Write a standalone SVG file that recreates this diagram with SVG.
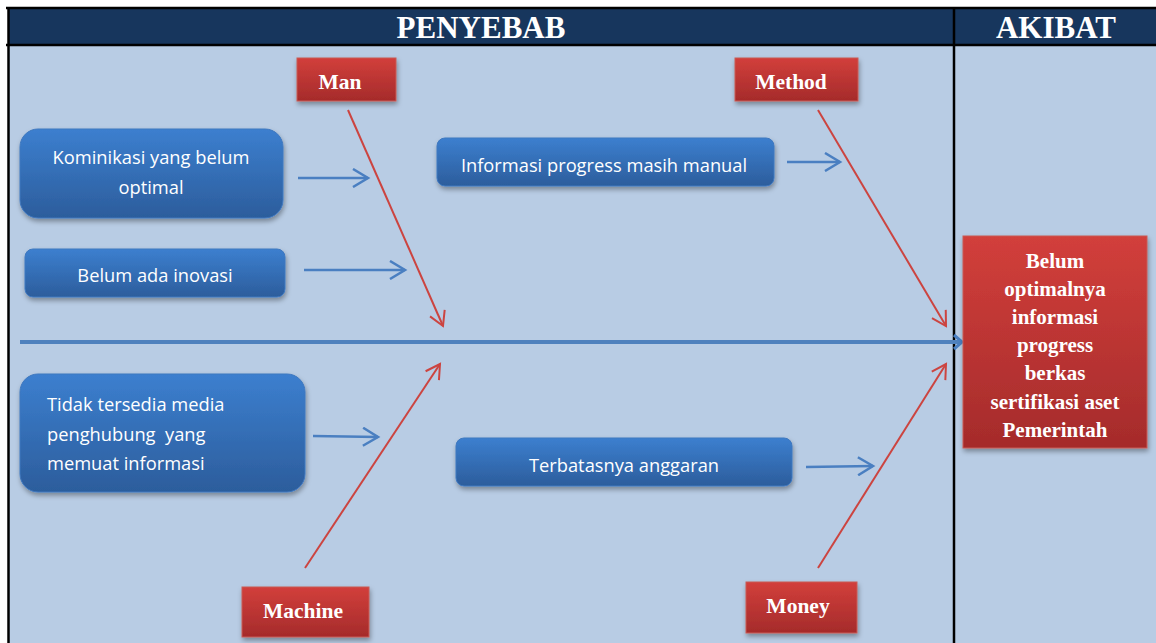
<svg xmlns="http://www.w3.org/2000/svg" width="1156" height="643" viewBox="0 0 1156 643">
<defs>
<style>
.hdr{font-family:"Liberation Serif","Times New Roman",serif;font-weight:bold;font-size:31px;fill:#fff;text-anchor:middle}
.cat{font-family:"Liberation Serif","Times New Roman",serif;font-weight:bold;font-size:21.5px;fill:#fff;text-anchor:middle}
.eff{font-family:"Liberation Serif","Times New Roman",serif;font-weight:bold;font-size:21px;fill:#fff;text-anchor:middle}
.bt{font-family:"Open Sans","Noto Sans",sans-serif;font-size:18.3px;fill:#fff}
.bbox{fill:url(#gb);stroke:#3f78bf;stroke-width:1;filter:url(#sh)}
.rbox{fill:url(#gr);stroke:#c85a55;stroke-width:1;filter:url(#sh)}
.rl{stroke:#cc4440;stroke-width:2;fill:none;marker-end:url(#ar)}
.bl{stroke:#4a7fc1;stroke-width:2.5;fill:none;marker-end:url(#ab)}
</style>
<linearGradient id="gb" x1="0" y1="0" x2="0" y2="1"><stop offset="0" stop-color="#3c7fcf"/><stop offset="1" stop-color="#2c5d9c"/></linearGradient>
<linearGradient id="gr" x1="0" y1="0" x2="0" y2="1"><stop offset="0" stop-color="#d23f3b"/><stop offset="1" stop-color="#a52b2b"/></linearGradient>
<filter id="sh" x="-10%" y="-10%" width="125%" height="135%"><feDropShadow dx="1" dy="3" stdDeviation="2.5" flood-color="#000" flood-opacity="0.35"/></filter>
<marker id="ar" markerUnits="userSpaceOnUse" markerWidth="20" markerHeight="20" viewBox="-16 -10 18 20" refX="0" refY="0" orient="auto"><path d="M-14,-8 L0,0 L-14,8" fill="none" stroke="#cc4440" stroke-width="2"/></marker>
<marker id="ab" markerUnits="userSpaceOnUse" markerWidth="20" markerHeight="20" viewBox="-16 -10 18 20" refX="0" refY="0" orient="auto"><path d="M-15,-9 L0,0 L-15,9" fill="none" stroke="#4a7fc1" stroke-width="2.5"/></marker>
<marker id="as" markerUnits="userSpaceOnUse" markerWidth="20" markerHeight="20" viewBox="-16 -10 18 20" refX="0" refY="0" orient="auto"><path d="M-8,-7 L0,0 L-8,7" fill="none" stroke="#4a7fc1" stroke-width="3"/></marker>
</defs>
<rect x="0" y="0" width="1156" height="643" fill="#fff"/>
<rect x="8" y="46" width="1148" height="597" fill="#b8cce4"/>
<rect x="8" y="8" width="1148" height="37" fill="#17365d"/>
<g fill="none" stroke="#000" stroke-width="2.5">
<line x1="6" y1="8" x2="1156" y2="8"/>
<line x1="6" y1="45" x2="1156" y2="45"/>
<line x1="8.5" y1="7" x2="8.5" y2="643"/>
<line x1="954" y1="7" x2="954" y2="643"/>
</g>
<text class="hdr" x="481" y="38">PENYEBAB</text>
<text class="hdr" x="1056" y="38">AKIBAT</text>

<g id="connectors">
<line x1="20" y1="342" x2="962" y2="342" stroke="#4f81bd" stroke-width="4" marker-end="url(#as)"/>
<line class="rl" x1="348" y1="110" x2="443" y2="326"/>
<line class="rl" x1="818" y1="110" x2="946" y2="326"/>
<line class="rl" x1="305" y1="568" x2="440" y2="364"/>
<line class="rl" x1="818" y1="568" x2="946" y2="364"/>
<line class="bl" x1="298" y1="178" x2="368" y2="178"/>
<line class="bl" x1="304" y1="270" x2="405" y2="270"/>
<line class="bl" x1="787" y1="162" x2="840" y2="162"/>
<line class="bl" x1="313" y1="436" x2="378" y2="437"/>
<line class="bl" x1="806" y1="467" x2="873" y2="466"/>
</g>

<g id="man"><rect class="rbox" x="297" y="58" width="99" height="43"/><text class="cat" x="340" y="89">Man</text></g>
<g id="method"><rect class="rbox" x="735" y="58" width="123" height="43"/><text class="cat" x="791" y="89">Method</text></g>
<g id="machine"><rect class="rbox" x="242" y="587" width="127" height="50"/><text class="cat" x="303" y="618">Machine</text></g>
<g id="money"><rect class="rbox" x="746" y="582" width="111" height="51"/><text class="cat" x="798" y="613">Money</text></g>

<g id="effect"><rect class="rbox" x="963" y="236" width="184" height="212"/>
<text class="eff" x="1055" y="268">Belum</text>
<text class="eff" x="1055" y="296">optimalnya</text>
<text class="eff" x="1055" y="324">informasi</text>
<text class="eff" x="1055" y="352">progress</text>
<text class="eff" x="1055" y="380">berkas</text>
<text class="eff" x="1055" y="409">sertifikasi aset</text>
<text class="eff" x="1055" y="437">Pemerintah</text>
</g>

<g id="komunikasi"><rect class="bbox" x="20" y="129" width="263" height="89" rx="18"/>
<text class="bt" x="151" y="164" text-anchor="middle">Kominikasi yang belum</text>
<text class="bt" x="151" y="194" text-anchor="middle">optimal</text></g>
<g id="inovasi"><rect class="bbox" x="25" y="249" width="260" height="48" rx="8"/>
<text class="bt" x="155" y="282" text-anchor="middle">Belum ada inovasi</text></g>
<g id="informasi"><rect class="bbox" x="437" y="138" width="337" height="48" rx="8"/>
<text class="bt" x="604" y="172" text-anchor="middle">Informasi progress masih manual</text></g>
<g id="media"><rect class="bbox" x="20" y="374" width="285" height="118" rx="18"/>
<text class="bt" x="47" y="411">Tidak tersedia media</text>
<text class="bt" x="47" y="441" xml:space="preserve">penghubung  yang</text>
<text class="bt" x="47" y="470">memuat informasi</text></g>
<g id="anggaran"><rect class="bbox" x="456" y="438" width="336" height="48" rx="8"/>
<text class="bt" x="624" y="472" text-anchor="middle">Terbatasnya anggaran</text></g>
</svg>
